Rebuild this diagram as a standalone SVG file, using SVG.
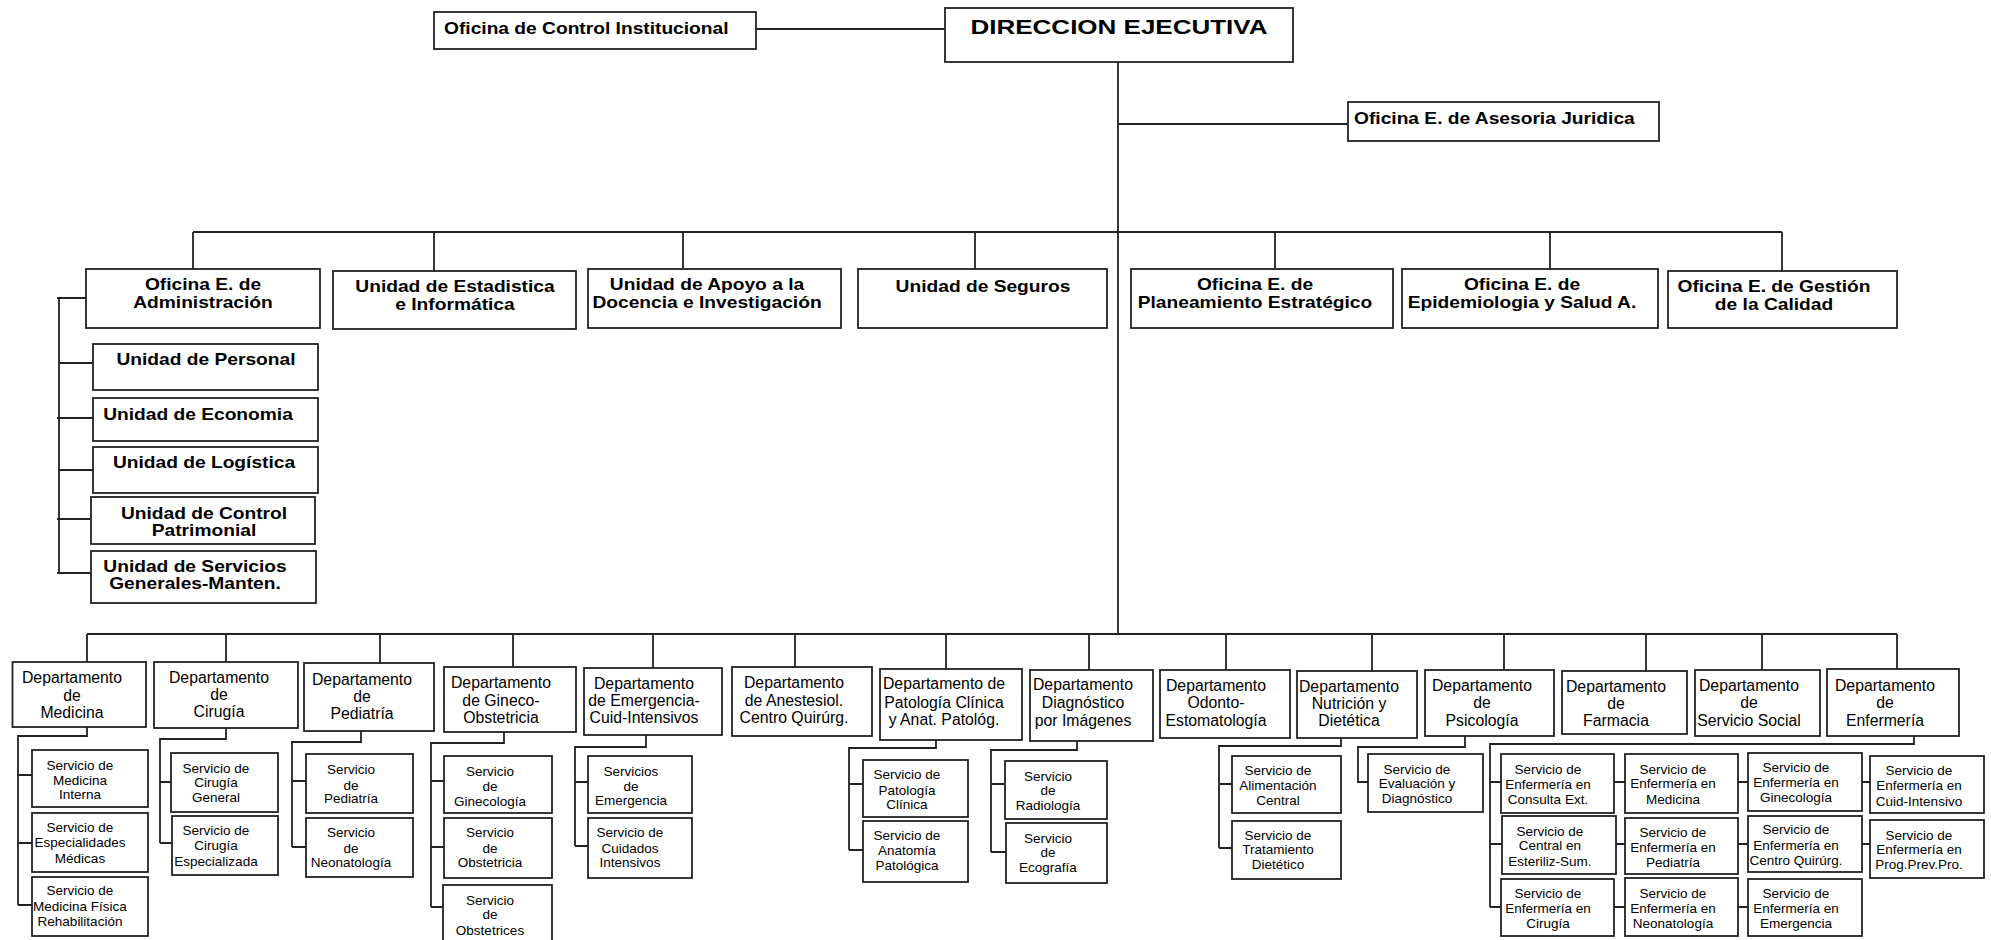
<svg xmlns="http://www.w3.org/2000/svg" width="1991" height="940" viewBox="0 0 1991 940">
<style>
.bx{fill:#fff;stroke:#222;stroke-width:1.8}
.ln{fill:none;stroke:#222;stroke-width:1.8}
text{font-family:"Liberation Sans",Arial,sans-serif;fill:#000;text-anchor:middle}
.b{font-weight:bold;font-size:16px}
.st{text-anchor:start}
.t{font-size:20px;font-weight:bold}
.d{font-size:15.8px}
.s{font-size:13.5px}
</style>
<rect width="1991" height="940" fill="#fff"/>
<g id="connectors">
<path class="ln" d="M756,29 H945 M1118,62 V634 M1118,124 H1348"/>
<path class="ln" d="M193,232 H1782 M193,232 V269 M434,232 V271 M683,232 V269 M975,232 V269 M1275,232 V269 M1550,232 V269 M1782,232 V271"/>
<path class="ln" d="M86,298 H57 M59,298 V573 M59,363 H93 M57,418 H93 M59,470 H93 M57,519 H91 M57,573 H91"/>
<path class="ln" d="M87,634 H1897 M87,634 V662 M226,634 V662 M380,634 V663 M513,634 V667 M653,634 V668 M795,634 V667 M946,634 V669 M1089,634 V670 M1226,634 V670 M1372,634 V671 M1504,634 V670 M1646,634 V671 M1762,634 V670 M1897,634 V669"/>
<path class="ln" d="M87,727 V736 H18 V905 M18,775 H32 M18,843 H32 M18,905 H32"/>
<path class="ln" d="M226,728 V739 H160 V843 M160,782 H171 M160,843 H172"/>
<path class="ln" d="M361,731 V742 H292 V847 M292,781 H306 M292,847 H306"/>
<path class="ln" d="M504,732 V743 H431 V907 M431,781 H444 M431,847 H444 M431,907 H443"/>
<path class="ln" d="M646,735 V747 H575 V846 M575,782 H588 M575,846 H588"/>
<path class="ln" d="M936,740 V748 H849 V850 M849,784 H863 M849,850 H863"/>
<path class="ln" d="M1077,741 V750 H991 V852 M991,784 H1005 M991,852 H1006"/>
<path class="ln" d="M1341,738 V746 H1219 V848 M1219,784 H1232 M1219,848 H1232"/>
<path class="ln" d="M1465,736 V747 H1358 V782 H1368"/>
<path class="ln" d="M1914,736 V744 H1490 V907 M1490,782 H1501 M1490,844 H1502 M1490,907 H1501 M1614,782 H1625 M1616,844 H1625 M1614,907 H1625 M1738,782 H1748 M1738,844 H1748 M1738,907 H1748 M1862,782 H1870 M1862,844 H1870"/>
</g>
<g id="control"><rect class="bx" x="434" y="12" width="322" height="37"/><text class="b st" transform="matrix(1.2 0 0 1 444 34)">Oficina de Control Institucional</text></g>
<g id="direccion"><rect class="bx" x="945" y="8" width="348" height="54"/><text class="t" transform="matrix(1.3 0 0 1 1119 34)">DIRECCION EJECUTIVA</text></g>
<g id="asesoria"><rect class="bx" x="1348" y="102" width="311" height="39"/><text class="b st" transform="matrix(1.2 0 0 1 1354 124)">Oficina E. de Asesoria Juridica</text></g>
<g id="administracion"><rect class="bx" x="86" y="269" width="234" height="59"/><text class="b" transform="matrix(1.2 0 0 1 203 290)"><tspan x="0" y="0">Oficina E. de</tspan><tspan x="0" y="18">Administración</tspan></text></g>
<g id="estadistica"><rect class="bx" x="333" y="271" width="243" height="58"/><text class="b" transform="matrix(1.2 0 0 1 455 292)"><tspan x="0" y="0">Unidad de Estadistica</tspan><tspan x="0" y="18">e Informática</tspan></text></g>
<g id="apoyo"><rect class="bx" x="588" y="269" width="253" height="59"/><text class="b" transform="matrix(1.2 0 0 1 707 290)"><tspan x="0" y="0">Unidad de Apoyo a la</tspan><tspan x="0" y="18">Docencia e Investigación</tspan></text></g>
<g id="seguros"><rect class="bx" x="858" y="269" width="249" height="59"/><text class="b" transform="matrix(1.2 0 0 1 983 292)">Unidad de Seguros</text></g>
<g id="planeamiento"><rect class="bx" x="1131" y="269" width="262" height="59"/><text class="b" transform="matrix(1.2 0 0 1 1255 290)"><tspan x="0" y="0">Oficina E. de</tspan><tspan x="0" y="18">Planeamiento Estratégico</tspan></text></g>
<g id="epidemiologia"><rect class="bx" x="1402" y="269" width="256" height="59"/><text class="b" transform="matrix(1.2 0 0 1 1522 290)"><tspan x="0" y="0">Oficina E. de</tspan><tspan x="0" y="18">Epidemiologia y Salud A.</tspan></text></g>
<g id="gestion"><rect class="bx" x="1668" y="271" width="229" height="57"/><text class="b" transform="matrix(1.2 0 0 1 1774 292)"><tspan x="0" y="0">Oficina E. de Gestión</tspan><tspan x="0" y="18">de la Calidad</tspan></text></g>
<g id="personal"><rect class="bx" x="93" y="344" width="225" height="46"/><text class="b" transform="matrix(1.2 0 0 1 206 365)">Unidad de Personal</text></g>
<g id="economia"><rect class="bx" x="93" y="398" width="225" height="43"/><text class="b" transform="matrix(1.2 0 0 1 198 420)">Unidad de Economia</text></g>
<g id="logistica"><rect class="bx" x="93" y="447" width="225" height="46"/><text class="b" transform="matrix(1.2 0 0 1 204 468)">Unidad de Logística</text></g>
<g id="patrimonial"><rect class="bx" x="91" y="497" width="224" height="47"/><text class="b" transform="matrix(1.2 0 0 1 204 519)"><tspan x="0" y="0">Unidad de Control</tspan><tspan x="0" y="17">Patrimonial</tspan></text></g>
<g id="servicios-generales"><rect class="bx" x="91" y="551" width="225" height="52"/><text class="b" transform="matrix(1.2 0 0 1 195 572)"><tspan x="0" y="0">Unidad de Servicios</tspan><tspan x="0" y="17">Generales-Manten.</tspan></text></g>
<g id="dep-medicina"><rect class="bx" x="12.5" y="662" width="133.5" height="65"/><text class="d"><tspan x="72" y="683">Departamento</tspan><tspan x="72" y="701">de</tspan><tspan x="72" y="718">Medicina</tspan></text></g>
<g id="dep-cirugia"><rect class="bx" x="154" y="662" width="144" height="66"/><text class="d"><tspan x="219" y="683">Departamento</tspan><tspan x="219" y="700">de</tspan><tspan x="219" y="717">Cirugía</tspan></text></g>
<g id="dep-pediatria"><rect class="bx" x="304" y="663" width="130" height="68"/><text class="d"><tspan x="362" y="685">Departamento</tspan><tspan x="362" y="702">de</tspan><tspan x="362" y="719">Pediatría</tspan></text></g>
<g id="dep-gineco"><rect class="bx" x="444" y="667" width="132" height="65"/><text class="d"><tspan x="501" y="688">Departamento</tspan><tspan x="501" y="706">de Gineco-</tspan><tspan x="501" y="723">Obstetricia</tspan></text></g>
<g id="dep-emergencia"><rect class="bx" x="584" y="668" width="138" height="67"/><text class="d"><tspan x="644" y="689">Departamento</tspan><tspan x="644" y="706">de Emergencia-</tspan><tspan x="644" y="723">Cuid-Intensivos</tspan></text></g>
<g id="dep-anestesiol"><rect class="bx" x="732" y="667" width="140" height="69"/><text class="d"><tspan x="794" y="688">Departamento</tspan><tspan x="794" y="706">de Anestesiol.</tspan><tspan x="794" y="723">Centro Quirúrg.</tspan></text></g>
<g id="dep-patologia"><rect class="bx" x="880" y="669" width="142" height="71"/><text class="d"><tspan x="944" y="689">Departamento de</tspan><tspan x="944" y="708">Patología Clínica</tspan><tspan x="944" y="725">y Anat. Patológ.</tspan></text></g>
<g id="dep-diagnostico"><rect class="bx" x="1030" y="670" width="123" height="71"/><text class="d"><tspan x="1083" y="690">Departamento</tspan><tspan x="1083" y="708">Diagnóstico</tspan><tspan x="1083" y="726">por Imágenes</tspan></text></g>
<g id="dep-odonto"><rect class="bx" x="1160" y="670" width="130" height="68"/><text class="d"><tspan x="1216" y="691">Departamento</tspan><tspan x="1216" y="708">Odonto-</tspan><tspan x="1216" y="726">Estomatología</tspan></text></g>
<g id="dep-nutricion"><rect class="bx" x="1297" y="671" width="120" height="67"/><text class="d"><tspan x="1349" y="692">Departamento</tspan><tspan x="1349" y="709">Nutrición y</tspan><tspan x="1349" y="726">Dietética</tspan></text></g>
<g id="dep-psicologia"><rect class="bx" x="1425" y="670" width="129" height="66"/><text class="d"><tspan x="1482" y="691">Departamento</tspan><tspan x="1482" y="708">de</tspan><tspan x="1482" y="726">Psicología</tspan></text></g>
<g id="dep-farmacia"><rect class="bx" x="1562" y="671" width="125" height="63"/><text class="d"><tspan x="1616" y="692">Departamento</tspan><tspan x="1616" y="709">de</tspan><tspan x="1616" y="726">Farmacia</tspan></text></g>
<g id="dep-social"><rect class="bx" x="1695" y="670" width="125" height="66"/><text class="d"><tspan x="1749" y="691">Departamento</tspan><tspan x="1749" y="708">de</tspan><tspan x="1749" y="726">Servicio Social</tspan></text></g>
<g id="dep-enfermeria"><rect class="bx" x="1827" y="669" width="132" height="67"/><text class="d"><tspan x="1885" y="691">Departamento</tspan><tspan x="1885" y="708">de</tspan><tspan x="1885" y="726">Enfermería</tspan></text></g>
<g id="s-med-interna"><rect class="bx" x="32" y="750" width="116" height="57"/><text class="s"><tspan x="80" y="770">Servicio de</tspan><tspan x="80" y="785">Medicina</tspan><tspan x="80" y="799">Interna</tspan></text></g>
<g id="s-especialidades"><rect class="bx" x="32" y="813" width="116" height="59"/><text class="s"><tspan x="80" y="832">Servicio de</tspan><tspan x="80" y="847">Especialidades</tspan><tspan x="80" y="863">Médicas</tspan></text></g>
<g id="s-rehab"><rect class="bx" x="32" y="877" width="116" height="59"/><text class="s"><tspan x="80" y="895">Servicio de</tspan><tspan x="80" y="911">Medicina Física</tspan><tspan x="80" y="926">Rehabilitación</tspan></text></g>
<g id="s-cir-general"><rect class="bx" x="171" y="753" width="107" height="59"/><text class="s"><tspan x="216" y="773">Servicio de</tspan><tspan x="216" y="787">Cirugía</tspan><tspan x="216" y="802">General</tspan></text></g>
<g id="s-cir-esp"><rect class="bx" x="172" y="816" width="106" height="59"/><text class="s"><tspan x="216" y="835">Servicio de</tspan><tspan x="216" y="850">Cirugía</tspan><tspan x="216" y="866">Especializada</tspan></text></g>
<g id="s-pediatria"><rect class="bx" x="306" y="754" width="107" height="59"/><text class="s"><tspan x="351" y="774">Servicio</tspan><tspan x="351" y="790">de</tspan><tspan x="351" y="803">Pediatría</tspan></text></g>
<g id="s-neonatologia"><rect class="bx" x="306" y="818" width="107" height="59"/><text class="s"><tspan x="351" y="837">Servicio</tspan><tspan x="351" y="853">de</tspan><tspan x="351" y="867">Neonatología</tspan></text></g>
<g id="s-ginecologia"><rect class="bx" x="444" y="756" width="108" height="57"/><text class="s"><tspan x="490" y="776">Servicio</tspan><tspan x="490" y="791">de</tspan><tspan x="490" y="806">Ginecología</tspan></text></g>
<g id="s-obstetricia"><rect class="bx" x="444" y="818" width="108" height="60"/><text class="s"><tspan x="490" y="837">Servicio</tspan><tspan x="490" y="853">de</tspan><tspan x="490" y="867">Obstetricia</tspan></text></g>
<g id="s-obstetrices"><rect class="bx" x="443" y="885" width="109" height="60"/><text class="s"><tspan x="490" y="905">Servicio</tspan><tspan x="490" y="919">de</tspan><tspan x="490" y="935">Obstetrices</tspan></text></g>
<g id="s-emergencia"><rect class="bx" x="588" y="756" width="104" height="57"/><text class="s"><tspan x="631" y="776">Servicios</tspan><tspan x="631" y="791">de</tspan><tspan x="631" y="805">Emergencia</tspan></text></g>
<g id="s-cuidados"><rect class="bx" x="588" y="818" width="104" height="60"/><text class="s"><tspan x="630" y="837">Servicio de</tspan><tspan x="630" y="853">Cuidados</tspan><tspan x="630" y="867">Intensivos</tspan></text></g>
<g id="s-pat-clinica"><rect class="bx" x="863" y="760" width="105" height="57"/><text class="s"><tspan x="907" y="779">Servicio de</tspan><tspan x="907" y="795">Patología</tspan><tspan x="907" y="809">Clínica</tspan></text></g>
<g id="s-anatomia"><rect class="bx" x="863" y="821" width="105" height="61"/><text class="s"><tspan x="907" y="840">Servicio de</tspan><tspan x="907" y="855">Anatomía</tspan><tspan x="907" y="870">Patológica</tspan></text></g>
<g id="s-radiologia"><rect class="bx" x="1005" y="761" width="102" height="58"/><text class="s"><tspan x="1048" y="781">Servicio</tspan><tspan x="1048" y="795">de</tspan><tspan x="1048" y="810">Radiología</tspan></text></g>
<g id="s-ecografia"><rect class="bx" x="1006" y="823" width="101" height="60"/><text class="s"><tspan x="1048" y="843">Servicio</tspan><tspan x="1048" y="857">de</tspan><tspan x="1048" y="872">Ecografía</tspan></text></g>
<g id="s-alimentacion"><rect class="bx" x="1232" y="756" width="109" height="57"/><text class="s"><tspan x="1278" y="775">Servicio de</tspan><tspan x="1278" y="790">Alimentación</tspan><tspan x="1278" y="805">Central</tspan></text></g>
<g id="s-tratamiento"><rect class="bx" x="1232" y="821" width="109" height="58"/><text class="s"><tspan x="1278" y="840">Servicio de</tspan><tspan x="1278" y="854">Tratamiento</tspan><tspan x="1278" y="869">Dietético</tspan></text></g>
<g id="s-evaluacion"><rect class="bx" x="1368" y="754" width="115" height="58"/><text class="s"><tspan x="1417" y="774">Servicio de</tspan><tspan x="1417" y="788">Evaluación y</tspan><tspan x="1417" y="803">Diagnóstico</tspan></text></g>
<g id="s-enf-consulta"><rect class="bx" x="1501" y="754" width="113" height="59"/><text class="s"><tspan x="1548" y="774">Servicio de</tspan><tspan x="1548" y="789">Enfermería en</tspan><tspan x="1548" y="804">Consulta Ext.</tspan></text></g>
<g id="s-central"><rect class="bx" x="1502" y="816" width="114" height="58"/><text class="s"><tspan x="1550" y="836">Servicio de</tspan><tspan x="1550" y="850">Central en</tspan><tspan x="1550" y="866">Esteriliz-Sum.</tspan></text></g>
<g id="s-enf-cirugia"><rect class="bx" x="1501" y="879" width="113" height="57"/><text class="s"><tspan x="1548" y="898">Servicio de</tspan><tspan x="1548" y="913">Enfermería en</tspan><tspan x="1548" y="928">Cirugía</tspan></text></g>
<g id="s-enf-medicina"><rect class="bx" x="1625" y="754" width="113" height="59"/><text class="s"><tspan x="1673" y="774">Servicio de</tspan><tspan x="1673" y="788">Enfermería en</tspan><tspan x="1673" y="804">Medicina</tspan></text></g>
<g id="s-enf-pediatria"><rect class="bx" x="1625" y="818" width="113" height="56"/><text class="s"><tspan x="1673" y="837">Servicio de</tspan><tspan x="1673" y="852">Enfermería en</tspan><tspan x="1673" y="867">Pediatría</tspan></text></g>
<g id="s-enf-neonatologia"><rect class="bx" x="1625" y="878" width="113" height="58"/><text class="s"><tspan x="1673" y="898">Servicio de</tspan><tspan x="1673" y="913">Enfermería en</tspan><tspan x="1673" y="928">Neonatología</tspan></text></g>
<g id="s-enf-ginecologia"><rect class="bx" x="1748" y="753" width="114" height="58"/><text class="s"><tspan x="1796" y="772">Servicio de</tspan><tspan x="1796" y="787">Enfermería en</tspan><tspan x="1796" y="802">Ginecología</tspan></text></g>
<g id="s-enf-quirurg"><rect class="bx" x="1748" y="816" width="114" height="56"/><text class="s"><tspan x="1796" y="834">Servicio de</tspan><tspan x="1796" y="850">Enfermería en</tspan><tspan x="1796" y="865">Centro Quirúrg.</tspan></text></g>
<g id="s-enf-emergencia"><rect class="bx" x="1748" y="879" width="114" height="57"/><text class="s"><tspan x="1796" y="898">Servicio de</tspan><tspan x="1796" y="913">Enfermería en</tspan><tspan x="1796" y="928">Emergencia</tspan></text></g>
<g id="s-enf-cuid"><rect class="bx" x="1870" y="756" width="114" height="57"/><text class="s"><tspan x="1919" y="775">Servicio de</tspan><tspan x="1919" y="790">Enfermería en</tspan><tspan x="1919" y="806">Cuid-Intensivo</tspan></text></g>
<g id="s-enf-prog"><rect class="bx" x="1870" y="820" width="114" height="58"/><text class="s"><tspan x="1919" y="840">Servicio de</tspan><tspan x="1919" y="854">Enfermería en</tspan><tspan x="1919" y="869">Prog.Prev.Pro.</tspan></text></g>
</svg>
